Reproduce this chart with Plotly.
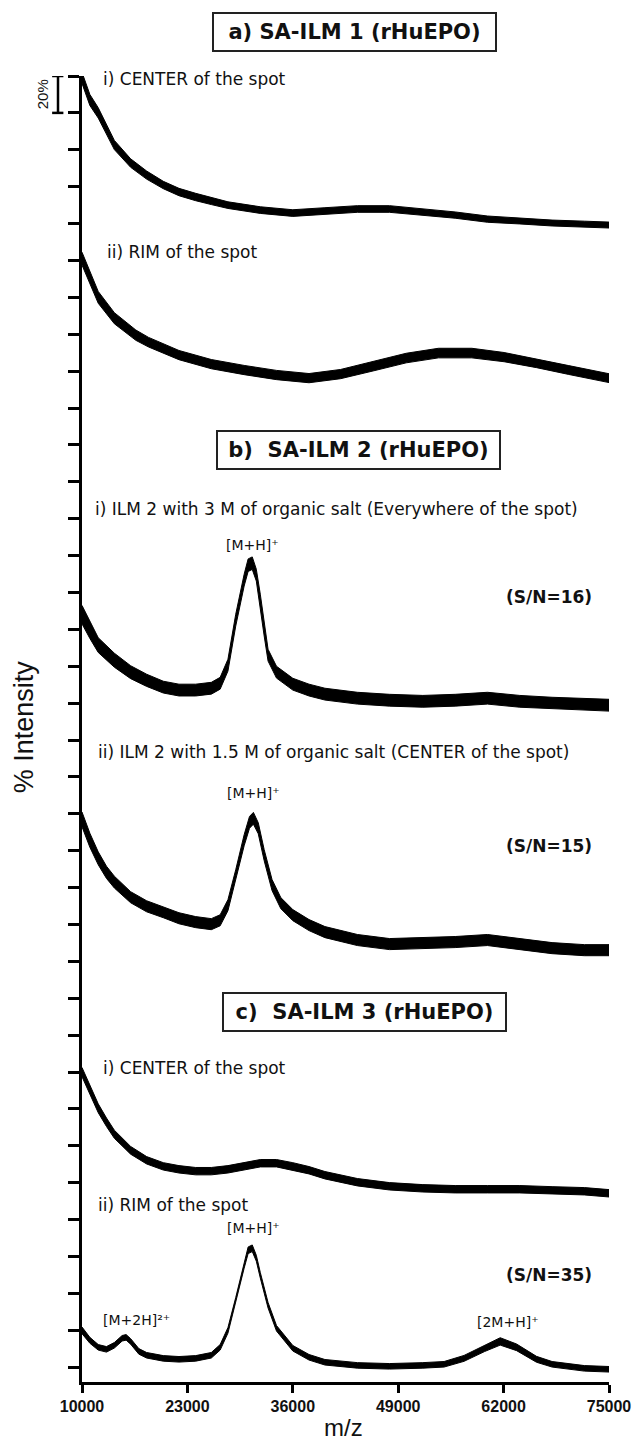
import plotly.graph_objects as go

# ---------------- data ----------------
# m/z sample positions and relative intensities (%) for each spectrum,
# plus the half-width of the noise band (%) and the stacking offset (%)

A1_MZ = [10000, 10970, 12000, 13020, 13990, 16000, 17970, 20030, 21960, 24020, 25950, 28000,
         32000, 36000, 39960, 43970, 47930, 52040, 56030, 60010, 64000, 67980, 71970, 75000]
A1_VAL = [99, 87, 80, 70.7, 62.6, 52.8, 46.3, 40.9, 37.1, 34.4, 32.2, 30,
          27.3, 25.7, 26.8, 27.9, 27.9, 26.2, 24.6, 22.4, 21.4, 20.3, 19.7, 19.2]
A1_NOISE = [3, 3, 2.8, 2.6, 2.5, 2.3, 2.2, 2.0, 2, 2, 1.9, 1.8,
            1.8, 1.8, 1.8, 1.8, 1.8, 1.7, 1.7, 1.7, 1.6, 1.6, 1.6, 1.6]
A1_OFFSET = 608

A2_MZ = [10000, 12000, 13990, 16640, 18210, 21960, 25950, 30000, 33990, 38000, 41890, 46000,
         49990, 53970, 58080, 62060, 66060, 70040, 75000]
A2_VAL = [101, 80, 68.7, 59.5, 55.7, 48.7, 43.8, 40.6, 37.9, 36.2, 38.4, 42.8,
          47.1, 49.8, 49.8, 47.6, 44.3, 40.6, 36.2]
A2_NOISE = [3.5, 3.2, 3, 2.8, 2.6, 2.5, 2.5, 2.5, 2.5, 2.5, 2.5, 2.6,
            2.6, 2.6, 2.6, 2.5, 2.4, 2.4, 2.4]
A2_OFFSET = 508

B1_MZ = [10000, 10970, 12000, 13990, 16000, 17970, 20030, 21960, 24020, 25950, 27040, 28000,
         28960, 30000, 30490, 31000, 31500, 31990, 32470, 32950, 33990, 36000, 38000, 39960,
         43970, 47930, 52040, 56030, 60010, 64000, 67980, 71970, 75000]
B1_VAL = [68, 59.6, 51.5, 43.3, 36.8, 32.4, 28.7, 27.1, 27.1, 28.1, 30.8, 40.6,
          65, 86.7, 94.8, 95.9, 89.4, 75.9, 59.6, 46, 36.8, 30.3, 27.1, 24.9,
          22.7, 21.6, 21, 21.6, 22.7, 21, 20, 19.5, 18.9]
B1_NOISE = [5, 4.5, 4, 3.8, 3.5, 3.3, 3.2, 3.2, 3.2, 3.2, 3.2, 3.2,
            3.2, 3.2, 3.4, 3.4, 3.2, 3.2, 3.2, 3.2, 3.2, 3.2, 3.2, 3.2,
            3.2, 3.2, 3.2, 3.2, 3.2, 3.2, 3.2, 3.2, 3.2]
B1_OFFSET = 348

B2_MZ = [10000, 10970, 12000, 13020, 13990, 16000, 17970, 20030, 21960, 24020, 25950, 27040,
         28000, 28960, 30000, 30660, 31140, 31740, 32470, 33440, 34520, 36000, 38000, 39960,
         43970, 47930, 52040, 56030, 60010, 64000, 67980, 71970, 75000]
B2_VAL = [97, 85.7, 75.9, 68.3, 63, 54.8, 49.9, 46.7, 43.4, 41.3, 40.2, 42.3,
          50.5, 66.7, 85.7, 95.4, 97.6, 92.2, 77.6, 61.4, 51.6, 45.1, 39.7, 35.9,
          31.6, 29.4, 30, 30.5, 31.6, 29.4, 27.2, 26.1, 26.1]
B2_NOISE = [4, 3.8, 3.5, 3.3, 3.2, 3, 3, 3, 3, 3, 3, 3,
            3, 3, 3, 3.2, 3.2, 3, 3, 3, 3, 3, 3, 3,
            3, 3, 3, 3, 3, 3, 3, 3, 3]
B2_OFFSET = 208

C1_MZ = [10000, 10970, 12000, 13020, 13990, 16000, 17970, 20030, 21960, 24020, 25950, 28000,
         30000, 31990, 33990, 36000, 38000, 39960, 43970, 47930, 52040, 56030, 60010, 64000,
         67980, 71970, 75000]
C1_VAL = [100, 90.2, 80.4, 72.8, 66.3, 57.6, 52.2, 48.9, 47.3, 46.3, 46.3, 47.3,
          48.9, 50.6, 50.6, 48.9, 46.8, 44.1, 40.3, 38.1, 37, 36.5, 36.5, 36.5,
          35.9, 35.4, 34.3]
C1_NOISE = [2.5, 2.5, 2.4, 2.3, 2.2, 2.1, 2, 2, 2, 2, 2, 2,
            2, 2, 2, 2, 2, 2, 2, 2, 2, 2, 2, 2,
            2, 2, 2]
C1_OFFSET = 68

C2_MZ = [10000, 10970, 12000, 13020, 13990, 14950, 15440, 16000, 17010, 17970, 20030, 21960,
         24020, 25950, 27040, 28000, 28960, 30000, 30490, 31000, 31500, 31990, 32950, 33990,
         36000, 38000, 39960, 43970, 47930, 52040, 54660, 57120, 59650, 61580, 63600, 66060,
         67980, 71970, 75000]
C2_VAL = [28, 22.6, 18.8, 17.7, 19.9, 23.7, 24.2, 22, 16.6, 14.5, 12.8, 12.3,
          12.8, 14.5, 18.8, 28, 44.3, 63.3, 71.4, 72.5, 67.1, 57.9, 41.6, 29.1,
          18.3, 13.4, 10.7, 9, 8.5, 9, 9.6, 12.8, 18.3, 22, 18.8, 12.3,
          9.6, 7.4, 6.9]
C2_NOISE = [1.8, 1.6, 1.5, 1.5, 1.5, 1.5, 1.5, 1.5, 1.5, 1.5, 1.5, 1.5,
            1.5, 1.5, 1.5, 1.5, 1.5, 1.6, 1.8, 1.8, 1.6, 1.5, 1.5, 1.5,
            1.5, 1.5, 1.5, 1.5, 1.5, 1.5, 1.5, 1.6, 1.8, 2.0, 1.8, 1.6,
            1.5, 1.5, 1.5]
C2_OFFSET = 0

X_TICKS = [10000, 23000, 36000, 49000, 62000, 75000]
Y_TICKS = list(range(8, 709, 20))

SPECTRA = [
    (A1_MZ, A1_VAL, A1_NOISE, A1_OFFSET),
    (A2_MZ, A2_VAL, A2_NOISE, A2_OFFSET),
    (B1_MZ, B1_VAL, B1_NOISE, B1_OFFSET),
    (B2_MZ, B2_VAL, B2_NOISE, B2_OFFSET),
    (C1_MZ, C1_VAL, C1_NOISE, C1_OFFSET),
    (C2_MZ, C2_VAL, C2_NOISE, C2_OFFSET),
]

# ---------------- figure ----------------
W, H = 643, 1443
ML, MR, MT, MB = 82, 23, 76, 61
PW, PH = W - ML - MR, H - MT - MB


def px(x):
    return (x - ML) / PW


def py(y):
    return (H - MB - y) / PH


fig = go.Figure()
for mz, val, noise, off in SPECTRA:
    up = [off + v + n for v, n in zip(val, noise)]
    lo = [off + v - n for v, n in zip(val, noise)]
    fig.add_trace(go.Scatter(
        x=mz + mz[::-1], y=up + lo[::-1], mode="lines", fill="toself",
        fillcolor="black", line=dict(color="black", width=1),
        hoverinfo="skip", showlegend=False))

REG = "DejaVu Sans"
ARIAL = "Liberation Sans, Arial"

ann = []


def label(text, x, y, size=17, bold=False, anchor="left", family=REG):
    ann.append(dict(text=text, x=px(x), y=py(y), xref="paper", yref="paper",
                    xanchor=anchor, yanchor="middle", showarrow=False,
                    font=dict(family=family, size=size, color="#111",
                              weight="bold" if bold else "normal")))


def box(text, x, y):
    ann.append(dict(text=text, x=px(x), y=py(y), xref="paper", yref="paper",
                    xanchor="center", yanchor="middle", showarrow=False,
                    width=281, height=36, borderpad=0, borderwidth=2,
                    bordercolor="#222", bgcolor="white",
                    font=dict(family=REG, size=21, color="#111", weight="bold")))


box("a) SA-ILM 1 (rHuEPO)", 360, 32)
box("b)\u00a0 SA-ILM 2 (rHuEPO)", 364, 450)
box("c)\u00a0 SA-ILM 3 (rHuEPO)", 370, 1012)

label("i) CENTER of the spot", 101, 79)
label("ii) RIM of the spot", 105, 252)
label("i) ILM 2 with 3 M of organic salt (Everywhere of the spot)", 93, 509)
label("ii) ILM 2 with 1.5 M of organic salt (CENTER of the spot)", 96, 752)
label("i) CENTER of the spot", 101, 1068)
label("ii) RIM of the spot", 96, 1205)

label("[M+H]\u207a", 256, 545, size=14, anchor="center")
label("[M+H]\u207a", 257, 793, size=14, anchor="center")
label("[M+H]\u207a", 257, 1228, size=14, anchor="center")
label("[M+2H]\u00b2\u207a", 138, 1320, size=14, anchor="center")
label("[2M+H]\u207a", 517, 1322, size=14, anchor="center")

label("(S/N=16)", 559, 597, size=17, bold=True, anchor="center")
label("(S/N=15)", 559, 846, size=17, bold=True, anchor="center")
label("(S/N=35)", 559, 1275, size=17, bold=True, anchor="center")

# axis titles
ann.append(dict(text="m/z", x=px(349), y=py(1443), xref="paper", yref="paper",
                xanchor="center", yanchor="bottom", showarrow=False,
                font=dict(family=ARIAL, size=24, color="#111")))
ann.append(dict(text="% Intensity", x=px(23), y=py(727), xref="paper", yref="paper",
                xanchor="center", yanchor="middle", showarrow=False, textangle=-90,
                font=dict(family=ARIAL, size=27, color="#111")))
ann.append(dict(text="20%", x=px(42), y=698, xref="paper", yref="y",
                xanchor="center", yanchor="middle", showarrow=False, textangle=-90,
                font=dict(family=ARIAL, size=15, color="#111")))

shapes = [
    dict(type="line", xref="paper", yref="y", x0=px(57.5), x1=px(57.5), y0=688, y1=708,
         line=dict(color="black", width=2.5)),
    dict(type="line", xref="paper", yref="y", x0=px(51.5), x1=px(63), y0=708, y1=708,
         line=dict(color="black", width=2.5)),
    dict(type="line", xref="paper", yref="y", x0=px(51.5), x1=px(63), y0=688, y1=688,
         line=dict(color="black", width=2.5)),
]

fig.update_layout(
    width=W, height=H, margin=dict(l=ML, r=MR, t=MT, b=MB, pad=0),
    paper_bgcolor="white", plot_bgcolor="white",
    annotations=ann, shapes=shapes, showlegend=False,
    xaxis=dict(range=[10000, 75000], tickvals=X_TICKS, ticktext=[str(v) for v in X_TICKS],
               ticks="outside", ticklen=8, tickwidth=2.5, tickcolor="black",
               showline=True, linecolor="black", linewidth=2.5, showgrid=False,
               zeroline=False, tickfont=dict(family=ARIAL, size=16, color="#111", weight="bold")),
    yaxis=dict(range=[0, 708], tickvals=Y_TICKS, showticklabels=False,
               ticks="outside", ticklen=11, tickwidth=2.5, tickcolor="black",
               showline=True, linecolor="black", linewidth=2.5, showgrid=False,
               zeroline=False),
)

fig.write_html("out.html")
